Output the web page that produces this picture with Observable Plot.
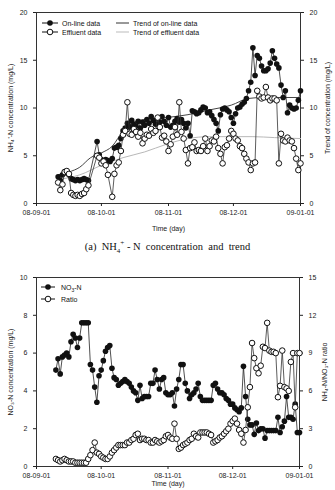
<!DOCTYPE html>
<html><head><meta charset="utf-8">
<script src="https://cdn.jsdelivr.net/npm/d3@7"></script>
<script src="https://cdn.jsdelivr.net/npm/@observablehq/plot@0.6"></script>
<style>
body{margin:0;width:335px;height:490px;overflow:hidden;position:relative;background:#fff;font-family:"Liberation Sans",Arial,sans-serif;}
.abs{position:absolute;left:0;}
.cap{position:absolute;left:0;width:335px;text-align:center;font-family:"Liberation Serif","Times New Roman",serif;font-size:10.5px;color:#111;}
</style></head>
<body>
<div id="a" class="abs" style="top:0"></div>
<div class="cap" style="top:239px">(a)&nbsp; NH<sub style="font-size:7px">4</sub><sup style="font-size:7px">+</sup> - N&nbsp; concentration&nbsp; and&nbsp; trend</div>
<div id="b" class="abs" style="top:265px"></div>
<svg class="abs" style="top:0" width="335" height="40" font-size="7" font-family="Liberation Sans, Arial" fill="#111">
  <line x1="42" x2="58" y1="23" y2="23" stroke="#111"/><circle cx="50" cy="23" r="2.8" fill="#111"/>
  <text x="62" y="25.5">On-line data</text>
  <line x1="42" x2="58" y1="32" y2="32" stroke="#111"/><circle cx="50" cy="32" r="2.8" fill="#fff" stroke="#111"/>
  <text x="62" y="34.5">Effluent data</text>
  <line x1="116" x2="129" y1="23" y2="23" stroke="#333"/>
  <text x="133" y="25.5">Trend of on-line data</text>
  <line x1="116" x2="129" y1="32" y2="32" stroke="#bbb"/>
  <text x="133" y="34.5">Trend of effluent data</text>
</svg>
<svg class="abs" style="top:277px" width="335" height="30" font-size="7" font-family="Liberation Sans, Arial" fill="#111">
  <line x1="41" x2="55" y1="10" y2="10" stroke="#111"/><circle cx="48" cy="10" r="2.8" fill="#111"/>
  <text x="61" y="12.5">NO<tspan font-size="5" dy="2">3</tspan><tspan dy="-2">-N</tspan></text>
  <line x1="41" x2="55" y1="22" y2="22" stroke="#111"/><circle cx="48" cy="22" r="2.8" fill="#fff" stroke="#111"/>
  <text x="61" y="24.5">Ratio</text>
</svg>
<script>
// ---- chart (a): NH4+-N ----
const onlineDays = [10,11,12,13,14,15,16,17,18,19,20,21,22,23,24,28,29,30,31,32,33,34,35,36,37,38,39,40,41,42,43,44,45,46,47,48,49,50,51,52,53,54,55,56,57,58,59,60,61,62,63,64,65,66,67,68,69,70,71,72,73,74,75,76,77,78,79,80,81,82,83,84,85,86,87,88,89,90,91,92,93,94,95,96,97,98,99,100,101,102,103,104,105,106,107,108,109,110,111,112,113,114,115,116,117,118,119,120,121,122];
const onlineVals = [2.8,2.4,3.0,3.3,3.2,3.0,2.6,2.5,2.4,2.5,2.4,2.5,2.6,2.5,2.4,6.5,5.1,4.6,4.4,4.6,4.5,4.4,4.7,5.8,5.9,6.1,6.8,7.6,7.9,8.4,8.0,8.7,8.3,8.1,8.6,7.9,8.5,8.2,8.8,8.4,9.1,8.7,8.3,8.9,8.5,9.1,8.6,8.2,9.0,8.0,8.2,8.6,8.9,8.5,8.8,8.4,7.9,8.4,7.1,9.7,9.6,9.4,9.5,9.8,10.1,10.0,9.5,9.6,9.2,8.8,8.4,7.6,9.3,9.9,10.0,9.8,9.6,9.0,8.4,9.4,10.0,10.1,10.4,10.6,11.0,11.8,12.7,16.3,13.4,15.5,15.2,14.4,13.9,13.9,14.1,14.7,16.0,15.2,14.6,14.2,12.4,11.1,11.8,9.5,10.3,10.0,9.9,10.0,10.8,11.8];
const effluentDays = [10,11,12,13,14,15,16,17,18,19,20,21,22,23,24,28,29,30,31,32,33,35,36,37,38,39,40,41,42,43,44,45,46,47,48,49,50,51,52,53,54,55,56,57,58,59,60,61,62,63,64,65,66,67,68,69,70,71,72,73,74,75,76,77,78,79,80,81,82,83,84,85,86,87,88,89,90,91,92,93,94,95,96,97,98,99,100,101,102,103,104,105,106,107,108,109,110,111,112,113,114,115,116,117,118,119,120,121,122];
const effluentVals = [2.2,1.4,2.0,3.3,3.4,3.1,1.1,0.9,0.8,0.9,0.8,1.0,1.1,1.5,1.9,5.0,4.8,4.2,4.4,4.0,3.0,0.7,3.1,4.0,4.3,5.5,7.2,7.6,10.6,7.3,7.2,7.8,7.5,7.0,7.4,6.3,6.8,7.2,7.1,7.8,7.4,7.6,9.0,8.0,6.9,7.1,6.5,5.5,6.2,7.0,8.0,7.2,10.6,7.5,6.8,5.6,4.2,5.8,5.9,6.4,5.5,5.6,5.5,6.0,6.8,5.5,6.0,6.6,6.5,7.0,5.8,5.2,4.2,5.9,6.1,6.8,7.6,7.3,6.8,6.6,6.0,5.8,5.2,4.7,4.3,3.5,4.2,4.3,11.8,11.2,11.0,11.1,12.2,11.1,10.8,11.0,11.0,10.8,4.2,7.3,6.6,6.5,6.9,6.6,6.5,5.8,4.7,3.5,4.2];
const trendOnDays = [10,15,20,25,30,35,40,45,50,60,70,80,90,98,105,122];
const trendOnVals = [3.0,3.3,3.8,4.8,5.3,6.0,7.6,8.5,8.8,9.0,9.3,9.8,10.3,11.0,11.1,11.1];
const trendEffDays = [10,20,30,40,50,60,70,80,90,100,110,122];
const trendEffVals = [2.5,3.0,4.0,4.8,5.4,6.2,6.8,7.0,7.0,7.0,6.9,6.8];
const yTicksA = [0,5,10,15,20];

// ---- chart (b): NO3-N and ratio ----
const no3Days = d3.range(9,123);
const no3Vals = [5.1,5.7,4.9,5.8,5.9,6.0,5.8,6.6,7.0,6.8,6.3,6.8,7.6,7.6,7.6,7.6,5.4,5.1,4.2,3.4,4.8,5.1,5.6,6.1,6.3,6.4,5.2,4.7,4.6,4.3,4.4,4.5,4.6,4.5,4.4,4.2,4.0,3.9,3.5,4.3,3.6,3.7,3.7,3.7,4.4,4.4,5.1,4.6,4.1,4.6,4.7,3.9,3.8,3.8,3.9,3.2,4.1,4.6,5.4,5.4,4.4,4.0,3.6,3.8,3.9,4.1,4.4,3.7,3.5,3.5,3.5,3.5,3.5,4.3,4.4,4.1,3.9,3.9,3.8,3.6,3.5,3.3,3.3,3.1,3.0,2.9,3.1,5.3,3.7,2.5,2.2,2.2,1.7,2.3,1.9,2.0,2.0,1.5,1.9,1.9,1.9,1.9,1.9,2.6,1.8,2.1,2.4,3.7,2.6,2.6,2.5,3.3,1.8,1.8];
const ratioDays = d3.range(9,123);
const ratioVals = [0.6,0.5,0.4,0.5,0.6,0.5,0.4,0.4,0.4,0.3,0.3,0.3,0.3,0.3,0.3,0.6,0.9,1.3,1.9,1.1,1.0,0.8,0.7,0.6,0.6,0.8,1.1,1.3,1.5,1.7,1.7,1.7,1.7,1.9,1.9,2.1,2.2,2.5,2.6,2.1,2.2,2.2,2.1,2.1,1.9,1.9,2.1,2.0,1.9,2.0,2.1,2.4,2.5,2.3,2.2,3.4,2.2,1.4,1.5,1.7,1.8,1.9,2.1,2.2,2.6,2.4,2.3,2.7,2.7,2.7,2.7,2.6,2.5,1.9,2.0,2.1,2.3,2.4,2.6,2.8,3.0,3.4,3.6,3.8,3.4,2.9,2.6,1.9,2.9,4.7,6.3,9.8,8.6,7.8,7.4,8.0,9.5,9.4,11.4,9.2,9.1,9.1,9.0,5.5,6.4,9.2,6.3,6.2,6.0,8.3,9.0,4.7,9.0,9.0];
const yTicksB = [0,2,4,6,8,10];
const yTicksRatio = [0,3,6,9,12,15];

const xTickDays = [0,30,61,91,122];
const start = Date.UTC(2008,8,1);
const toDate = d => new Date(start + d*864e5);
const fmt = d3.utcFormat("%y-%m-%d");

const online = onlineDays.map((d,i)=>({date:toDate(d), v:onlineVals[i]}));
const effluent = effluentDays.map((d,i)=>({date:toDate(d), v:effluentVals[i]}));
const trendOn = trendOnDays.map((d,i)=>({date:toDate(d), v:trendOnVals[i]}));
const trendEff = trendEffDays.map((d,i)=>({date:toDate(d), v:trendEffVals[i]}));
const no3 = no3Days.map((d,i)=>({date:toDate(d), v:no3Vals[i]}));
const ratio = ratioDays.map((d,i)=>({date:toDate(d), v:ratioVals[i]}));

const common = {
  width:335, marginLeft:36, marginRight:35,
  style:{fontFamily:"Liberation Sans, Arial, sans-serif", fontSize:"7.5px", color:"#222", background:"transparent"},
  x:{type:"utc", domain:[toDate(0), toDate(122)]}
};
const xAxis = (off) => Plot.axisX({ticks:xTickDays.map(toDate), tickFormat:fmt, tickSize:3, tickPadding:4,
  label:"Time (day)", labelAnchor:"center", labelArrow:"none", labelOffset:off, fontSize:7});

const chartA = Plot.plot({
  ...common, height:236, marginTop:12, marginBottom:33,
  y:{domain:[0,20]},
  marks:[
    Plot.frame({stroke:"#333"}),
    xAxis(27),
    Plot.axisY({ticks:yTicksA, tickSize:3, fontSize:7, label:"NH₄⁺-N concentration (mg/L)", labelAnchor:"center", labelArrow:"none", labelOffset:28}),
    Plot.axisY({anchor:"right", ticks:yTicksA, tickSize:3, fontSize:7, label:"Trend of concentration (mg/L)", labelAnchor:"center", labelArrow:"none", labelOffset:29}),
    Plot.line(trendEff, {x:"date", y:"v", stroke:"#b8b8b8", strokeWidth:1, curve:"monotone-x"}),
    Plot.line(trendOn, {x:"date", y:"v", stroke:"#444", strokeWidth:1, curve:"monotone-x"}),
    Plot.line(online, {x:"date", y:"v", stroke:"#222", strokeWidth:0.8}),
    Plot.dot(online, {x:"date", y:"v", r:2.8, fill:"#111"}),
    Plot.line(effluent, {x:"date", y:"v", stroke:"#333", strokeWidth:0.8}),
    Plot.dot(effluent, {x:"date", y:"v", r:2.8, fill:"#fff", stroke:"#111", strokeWidth:1})
  ]
});
document.getElementById("a").append(chartA);

const chartB = Plot.plot({
  ...common, height:225, marginTop:12, marginBottom:24, marginRight:36,
  y:{domain:[0,10]},
  marks:[
    Plot.frame({stroke:"#333"}),
    xAxis(19),
    Plot.axisY({ticks:yTicksB, tickSize:3, fontSize:7, label:"NO₃-N concentration (mg/L)", labelAnchor:"center", labelArrow:"none", labelOffset:28}),
    Plot.axisY({anchor:"right", ticks:yTicksRatio.map(t=>t*10/15), tickFormat:t=>Math.round(t*15/10), tickSize:3, fontSize:7, label:"NH₄-N/NO₃-N ratio", labelAnchor:"center", labelArrow:"none", labelOffset:27}),
    Plot.line(no3, {x:"date", y:"v", stroke:"#222", strokeWidth:0.8}),
    Plot.dot(no3, {x:"date", y:"v", r:2.8, fill:"#111"}),
    Plot.line(ratio, {x:"date", y:d=>d.v*10/15, stroke:"#333", strokeWidth:0.8}),
    Plot.dot(ratio, {x:"date", y:d=>d.v*10/15, r:2.8, fill:"#fff", stroke:"#111", strokeWidth:1})
  ]
});
document.getElementById("b").append(chartB);
</script>
</body></html>
